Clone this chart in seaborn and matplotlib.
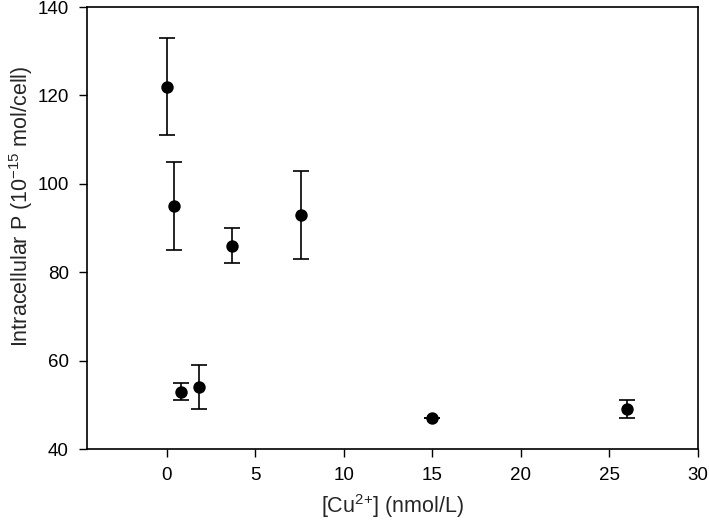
import numpy as np
import pandas as pd
import seaborn as sns
import matplotlib.pyplot as plt

sns.set_theme(style="ticks")
plt.rcParams['font.family'] = ['Liberation Sans', 'DejaVu Sans']
plt.rcParams['mathtext.fontset'] = 'custom'
plt.rcParams['mathtext.rm'] = 'Liberation Sans'

# data
cu_conc = [0.0, 0.4, 0.8, 1.8, 3.7, 7.6, 15.0, 26.0]
intra_p = [122, 95, 53, 54, 86, 93, 47, 49]
p_err = [11, 10, 2, 5, 4, 10, 0, 2]

x_ticks = [0, 5, 10, 15, 20, 25, 30]
y_ticks = [40, 60, 80, 100, 120, 140]

df = pd.DataFrame({"cu": cu_conc, "p": intra_p, "err": p_err})

fig = plt.figure(figsize=(7.09, 5.24), dpi=100)
ax = fig.add_axes([0.1227, 0.1431, 0.8613, 0.8435])

ax.errorbar(df["cu"], df["p"], yerr=df["err"], fmt="none", ecolor="black",
            elinewidth=1.2, capsize=6, capthick=1.2, zorder=2)
sns.scatterplot(data=df, x="cu", y="p", ax=ax, color="black", s=80,
                edgecolor="black", linewidth=0, zorder=3)

ax.set_xlim(-4.5, 30)
ax.set_ylim(40, 140)
ax.set_xticks(x_ticks)
ax.set_yticks(y_ticks)
ax.tick_params(axis="both", direction="out", length=6, width=1,
               labelsize=13.5, colors="black", pad=7)
ax.tick_params(top=False, right=False)
for s in ax.spines.values():
    s.set_linewidth(1.2)
    s.set_color("black")

ax.set_xlabel(r"[Cu$^{2{+}}$] (nmol/L)", fontsize=15.5, labelpad=6)
ax.set_ylabel(r"Intracellular P (10$^{-15}$ mol/cell)", fontsize=15.5)
# the reference label sits a little above the axes centre
ax.yaxis.set_label_coords(-0.085, 0.55)

fig.savefig("out.png", dpi=100)
